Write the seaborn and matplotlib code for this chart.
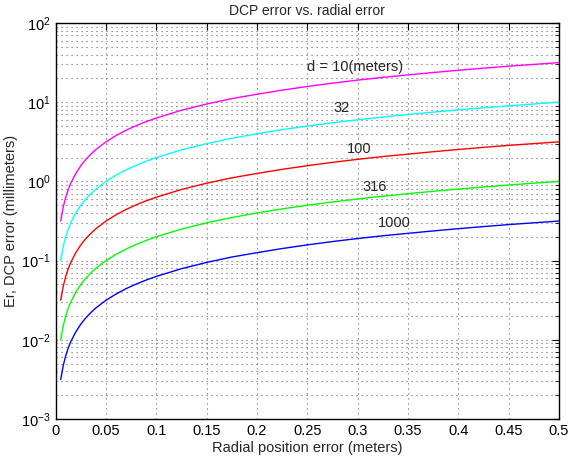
import matplotlib
matplotlib.use("Agg")
import matplotlib.pyplot as plt
import matplotlib.ticker as mticker
import numpy as np
import pandas as pd
import seaborn as sns

# Radial position error samples (meters)
radial_error = [0.005, 0.0075, 0.01, 0.0125, 0.015, 0.02, 0.025, 0.03, 0.035, 0.04,
                0.05, 0.06, 0.07, 0.08, 0.09, 0.1, 0.125, 0.15, 0.175, 0.2,
                0.225, 0.25, 0.275, 0.3, 0.325, 0.35, 0.375, 0.4, 0.425, 0.45,
                0.475, 0.5]

# DCP error (millimeters) for each distance d
err_d10 = [0.316, 0.474, 0.632, 0.790, 0.949, 1.26, 1.58, 1.90, 2.21, 2.53,
           3.16, 3.79, 4.43, 5.06, 5.69, 6.32, 7.91, 9.49, 11.1, 12.6,
           14.2, 15.8, 17.4, 19.0, 20.6, 22.1, 23.7, 25.3, 26.9, 28.5,
           30.0, 31.6]
err_d32 = [0.100, 0.150, 0.200, 0.250, 0.300, 0.400, 0.500, 0.600, 0.700, 0.800,
           1.00, 1.20, 1.40, 1.60, 1.80, 2.00, 2.50, 3.00, 3.50, 4.00,
           4.50, 5.00, 5.50, 6.00, 6.50, 7.00, 7.50, 8.00, 8.50, 9.00,
           9.50, 10.0]
err_d100 = [0.0316, 0.0474, 0.0632, 0.0790, 0.0949, 0.126, 0.158, 0.190, 0.221, 0.253,
            0.316, 0.379, 0.443, 0.506, 0.569, 0.632, 0.791, 0.949, 1.11, 1.26,
            1.42, 1.58, 1.74, 1.90, 2.06, 2.21, 2.37, 2.53, 2.69, 2.85,
            3.00, 3.16]
err_d316 = [0.0100, 0.0150, 0.0200, 0.0250, 0.0300, 0.0400, 0.0500, 0.0600, 0.0700, 0.0800,
            0.100, 0.120, 0.140, 0.160, 0.180, 0.200, 0.250, 0.300, 0.350, 0.400,
            0.450, 0.500, 0.550, 0.600, 0.650, 0.700, 0.750, 0.800, 0.850, 0.900,
            0.950, 1.00]
err_d1000 = [0.00316, 0.00474, 0.00632, 0.00790, 0.00949, 0.0126, 0.0158, 0.0190, 0.0221, 0.0253,
             0.0316, 0.0379, 0.0443, 0.0506, 0.0569, 0.0632, 0.0791, 0.0949, 0.111, 0.126,
             0.142, 0.158, 0.174, 0.190, 0.206, 0.221, 0.237, 0.253, 0.269, 0.285,
             0.300, 0.316]

series_names = ["d10", "d32", "d100", "d316", "d1000"]
series_values = [err_d10, err_d32, err_d100, err_d316, err_d1000]
series_colors = ["#ff00ff", "#00ffff", "#ff0000", "#00ff00", "#0000ff"]

# Curve labels: text, x, y
label_texts = ["d = 10(meters)", "32", "100", "316", "1000"]
label_x = [0.25, 0.276, 0.289, 0.305, 0.320]
label_y = [28.0, 8.4, 2.6, 0.86, 0.30]

x_ticks = [0, 0.05, 0.1, 0.15, 0.2, 0.25, 0.3, 0.35, 0.4, 0.45, 0.5]
x_tick_labels = ["0", "0.05", "0.1", "0.15", "0.2", "0.25", "0.3", "0.35", "0.4", "0.45", "0.5"]

sns.set_style("white")
plt.rcParams["font.family"] = ["Liberation Sans", "DejaVu Sans"]
plt.rcParams["mathtext.fontset"] = "custom"
plt.rcParams["mathtext.rm"] = "Liberation Sans"
plt.rcParams["mathtext.it"] = "Liberation Sans:italic"
plt.rcParams["mathtext.bf"] = "Liberation Sans:bold"

rows = []
for name, vals in zip(series_names, series_values):
    for r, v in zip(radial_error, vals):
        rows.append({"r": r, "err": v, "series": name})
df = pd.DataFrame(rows)

fig = plt.figure(figsize=(5.73, 4.59), dpi=100)
ax = fig.add_axes([0.0972, 0.0871, 0.8784, 0.8628])

sns.lineplot(data=df, x="r", y="err", hue="series", hue_order=series_names,
             palette=series_colors, linewidth=1.0, legend=False, ax=ax,
             estimator=None, sort=False)

ax.set_yscale("log")
ax.set_xlim(0, 0.5)
ax.set_ylim(1e-3, 1e2)
ax.set_xticks(x_ticks)
ax.set_xticklabels(x_tick_labels)
ax.yaxis.set_major_locator(mticker.LogLocator(base=10, numticks=10))
ax.yaxis.set_minor_locator(mticker.LogLocator(base=10, subs=np.arange(2, 10), numticks=20))
ax.yaxis.set_minor_formatter(mticker.NullFormatter())

ax.grid(True, which="major", axis="both", color="0.4", linestyle=(0, (1, 3.5)), linewidth=0.8)
ax.grid(True, which="minor", axis="y", color="0.4", linestyle=(0, (1, 3.5)), linewidth=0.8)

ax.tick_params(which="both", direction="in", top=True, right=True, labelsize=10.5, colors="black")
ax.tick_params(which="major", length=5)
ax.tick_params(which="minor", length=3)
for s in ax.spines.values():
    s.set_color("black")
    s.set_linewidth(1.0)

for t, x, y in zip(label_texts, label_x, label_y):
    ax.text(x, y, t, ha="left", va="center", fontsize=10.5)

ax.set_title("DCP error vs. radial error", fontsize=10, pad=6)
ax.set_xlabel("Radial position error (meters)", fontsize=10.5, labelpad=2)
ax.set_ylabel("Er, DCP error (millimeters)", fontsize=10.5, labelpad=2)

fig.savefig("out.png", dpi=100)
